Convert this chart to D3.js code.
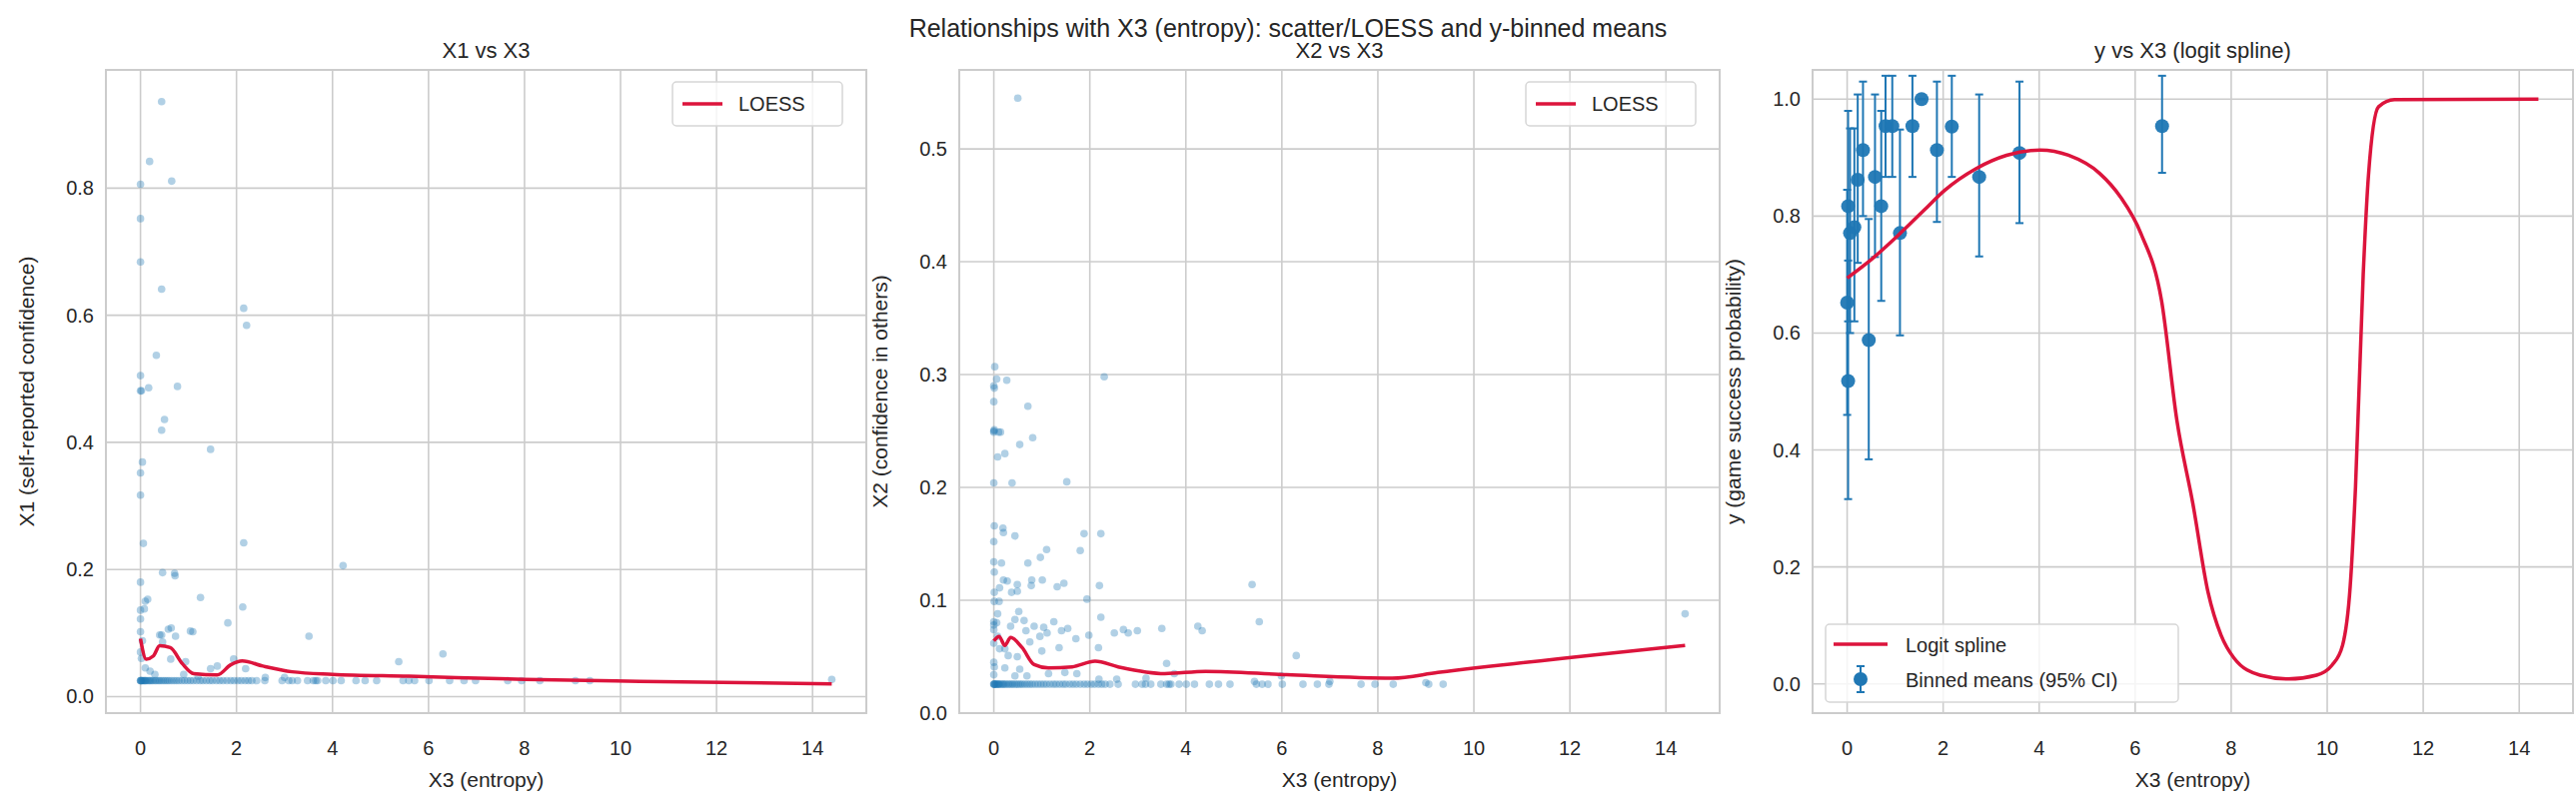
<!DOCTYPE html>
<html>
<head>
<meta charset="utf-8">
<script src="https://cdn.jsdelivr.net/npm/d3@7.9.0/dist/d3.min.js"></script>
<style>
  body { margin: 0; background: #fff; }
  text { font-family: "Liberation Sans", Arial, sans-serif; fill: #262626; }
</style>
</head>
<body>
<div id="chart"></div>
<script>
// ---- data ----
// X3 values of the dense floor cluster (shared by X1 and X2 panels)
const floorX3 = [0, 0, 0.01, 0.02, 0.03, 0.05, 0.07, 0.09, 0.1, 0.12, 0.15, 0.18, 0.2, 0.23, 0.26, 0.3,
  0.33, 0.37, 0.4, 0.44, 0.48, 0.52, 0.56, 0.6, 0.65, 0.7, 0.75, 0.8, 0.86, 0.92, 0.98, 1.04, 1.1,
  1.17, 1.24, 1.3, 1.37, 1.44, 1.5, 1.58, 1.65, 1.72, 1.8, 1.88, 1.95, 2.03, 2.1, 2.18, 2.25, 2.32,
  2.42, 2.59, 2.95, 3.09, 3.16, 3.27, 3.48, 3.6, 3.65, 3.69, 3.86, 4.01, 4.18, 4.49, 4.68, 4.92,
  5.47, 5.59, 5.71, 6.01, 6.44, 6.74, 6.98, 7.65, 7.94, 8.32, 9.06, 9.36];
const floorX1 = 0.025;
const floorX2 = 0.0256;

// X1 vs X3 scattered points above the floor: [X3, X1]
const x1Points = [[0.44, 0.936], [0.19, 0.842], [0, 0.806], [0.65, 0.811], [0, 0.752], [0, 0.684],
  [0.44, 0.641], [2.15, 0.611], [2.21, 0.584], [0.33, 0.537], [0, 0.505], [0.17, 0.486],
  [0.77, 0.488], [0, 0.481], [0.02, 0.481], [0.5, 0.436], [0.44, 0.419], [1.46, 0.389],
  [0.04, 0.369], [0, 0.352], [0, 0.317], [0.06, 0.241], [2.15, 0.242], [4.22, 0.206],
  [0.46, 0.195], [0.71, 0.194], [0.72, 0.19], [0, 0.18], [0.15, 0.153], [0.1, 0.15], [1.25, 0.156],
  [0, 0.136], [0.08, 0.138], [2.13, 0.141], [0, 0.122], [1.82, 0.116], [0.58, 0.106], [1.04, 0.103],
  [0.4, 0.097], [0.73, 0.095], [3.51, 0.095], [0.64, 0.108], [1.09, 0.102], [0.44, 0.097],
  [0, 0.102], [0.04, 0.088], [0.46, 0.086], [5.38, 0.055], [6.3, 0.067], [0.63, 0.059],
  [0.94, 0.055], [1.6, 0.048], [1.46, 0.044], [1.94, 0.059], [2.19, 0.044], [0, 0.07],
  [0.02, 0.06], [0.1, 0.045], [0.2, 0.04], [0.3, 0.035], [0.9, 0.035], [1.2, 0.032],
  [2.6, 0.03], [3.0, 0.03], [14.4, 0.027]];
const x1Loess = [[0, 0.091], [0.12, 0.059], [0.27, 0.064], [0.4, 0.08], [0.62, 0.077], [0.87, 0.052],
  [1.11, 0.036], [1.6, 0.034], [1.88, 0.05], [2.12, 0.056], [2.55, 0.048], [3.16, 0.039],
  [4.0, 0.035], [5.59, 0.032], [8.0, 0.027], [10.4, 0.024], [14.4, 0.02]];

// X2 vs X3 scattered points above the floor: [X3, X2]
const x2Points = [[0.5, 0.545], [0.02, 0.307], [0.06, 0.296], [0.27, 0.295], [0, 0.29], [0.01, 0.288],
  [0, 0.276], [0.71, 0.272], [2.3, 0.298], [0, 0.25], [0.01, 0.251], [0.1, 0.249],
  [0, 0.249], [0.14, 0.249], [0.81, 0.244], [0.54, 0.238], [0.23, 0.23], [0.08, 0.227], [0, 0.204],
  [0.38, 0.204], [1.52, 0.205], [0.01, 0.166], [0.19, 0.164], [0.2, 0.16], [0.44, 0.157],
  [1.88, 0.159], [2.23, 0.159], [0, 0.152], [1.1, 0.145], [1.8, 0.144], [0.97, 0.138], [0, 0.134],
  [0.16, 0.133], [0.71, 0.133], [0.01, 0.125], [0.2, 0.118], [0.28, 0.117], [0.49, 0.114],
  [0.79, 0.118], [1.01, 0.118], [0.78, 0.113], [1.32, 0.112], [1.46, 0.115], [2.2, 0.113],
  [5.38, 0.114], [0.12, 0.111], [0.01, 0.107], [0.37, 0.107], [0.49, 0.108], [1.94, 0.101],
  [0.01, 0.099], [0.11, 0.099], [0.08, 0.088], [0.52, 0.09], [0, 0.081], [0.06, 0.08], [0.44, 0.083],
  [0.63, 0.082], [1.25, 0.081], [2.23, 0.085], [5.53, 0.081], [0.35, 0.077], [0.84, 0.077],
  [1.04, 0.076], [1.41, 0.073], [1.54, 0.075], [2.51, 0.071], [2.7, 0.074], [2.99, 0.073],
  [3.5, 0.075], [4.25, 0.077], [4.34, 0.073], [0, 0.074], [0, 0.078], [0.67, 0.073], [0.96, 0.068],
  [1.11, 0.071], [1.71, 0.066], [1.98, 0.069], [2.8, 0.071], [0.08, 0.068], [0.75, 0.063], [0, 0.062],
  [1.36, 0.058], [2.18, 0.058], [1.0, 0.055], [0.12, 0.057], [0.23, 0.057], [0.3, 0.051],
  [0.49, 0.05], [6.3, 0.051], [0, 0.045], [3.6, 0.044], [0.01, 0.041], [0.23, 0.04], [0.54, 0.039],
  [1.14, 0.035], [1.48, 0.036], [1.73, 0.035], [0, 0.034], [0.44, 0.033], [0.69, 0.033],
  [3.17, 0.031], [3.76, 0.035], [5.99, 0.033], [7.0, 0.028], [5.43, 0.028], [2.19, 0.03],
  [2.56, 0.03], [9.0, 0.027], [14.4, 0.088]];
const x2Loess = [[0, 0.064], [0.11, 0.068], [0.23, 0.06], [0.35, 0.067], [0.59, 0.058], [0.84, 0.043],
  [1.14, 0.04], [1.63, 0.041], [2.11, 0.046], [2.59, 0.041], [3.56, 0.035], [4.41, 0.037],
  [6.1, 0.034], [8.3, 0.031], [9.25, 0.036], [14.4, 0.06]];

// y vs X3: binned means with 95% CI
const binX3 = [0.02, 0.0, 0.02, 0.06, 0.15, 0.22, 0.33, 0.45, 0.58, 0.71, 0.8, 0.94, 1.1, 1.36, 1.55,
  1.87, 2.18, 2.75, 3.59, 6.56];
const binMean = [0.518, 0.652, 0.817, 0.771, 0.781, 0.862, 0.913, 0.588, 0.867, 0.817, 0.954, 0.954,
  0.771, 0.954, 1.0, 0.913, 0.953, 0.867, 0.908, 0.954];
const binLo = [0.316, 0.46, 0.62, 0.6, 0.62, 0.72, 0.8, 0.384, 0.73, 0.655, 0.867, 0.867, 0.596,
  0.867, 1.0, 0.79, 0.867, 0.731, 0.788, 0.874];
const binHi = [0.724, 0.845, 0.98, 0.95, 0.95, 1.008, 1.03, 0.795, 1.008, 0.98, 1.04, 1.04, 0.948,
  1.04, 1.0, 1.03, 1.04, 1.008, 1.03, 1.04];
const splineX = [0, 0.52, 1.06, 1.6, 2.03, 2.68, 3.32, 4.02, 4.61, 5.26, 5.69, 6.12, 6.55, 6.87, 7.2,
  7.52, 7.79, 8.06, 8.6, 9.19, 9.78, 10.1, 10.32, 10.48, 10.59, 10.75, 10.86, 11.07, 11.4, 14.4];
const splineY = [0.694, 0.727, 0.767, 0.81, 0.844, 0.881, 0.904, 0.913, 0.904, 0.873, 0.833, 0.77,
  0.655, 0.45, 0.309, 0.156, 0.083, 0.044, 0.015, 0.0085, 0.015, 0.032, 0.066, 0.168, 0.337, 0.7,
  0.87, 0.987, 0.999, 1.0];

// ---- layout ----
const width = 2578, height = 808;
const plotTop = 70, plotBottom = 714;
const panels = [
  { left: 106, right: 867, y: [-0.026, 0.986], ticks: [0, 0.2, 0.4, 0.6, 0.8],
    title: "X1 vs X3", ylabel: "X1 (self-reported confidence)" },
  { left: 960, right: 1721, y: [0, 0.57], ticks: [0, 0.1, 0.2, 0.3, 0.4, 0.5],
    title: "X2 vs X3", ylabel: "X2 (confidence in others)" },
  { left: 1814, right: 2575, y: [-0.05, 1.05], ticks: [0, 0.2, 0.4, 0.6, 0.8, 1.0],
    title: "y vs X3 (logit spline)", ylabel: "y (game success probability)" },
];
const blue = "#1f77b4", red = "#dc143c", grid = "#cccccc";

const svg = d3.select("#chart").append("svg")
  .attr("width", width).attr("height", height);

svg.append("text")
  .attr("x", 1289).attr("y", 37)
  .attr("text-anchor", "middle")
  .style("font-size", "25px")
  .text("Relationships with X3 (entropy): scatter/LOESS and y-binned means");

panels.forEach((p) => {
  p.x = d3.scaleLinear().domain([-0.72, 15.12]).range([p.left, p.right]);
  p.ys = d3.scaleLinear().domain(p.y).range([plotBottom, plotTop]);
  const g = svg.append("g");
  p.g = g;

  // grid
  g.selectAll(".gx").data(d3.range(0, 15, 2)).join("line")
    .attr("x1", (d) => p.x(d)).attr("x2", (d) => p.x(d))
    .attr("y1", plotTop).attr("y2", plotBottom)
    .attr("stroke", grid).attr("stroke-width", 1.6);
  g.selectAll(".gy").data(p.ticks).join("line")
    .attr("x1", p.left).attr("x2", p.right)
    .attr("y1", (d) => p.ys(d)).attr("y2", (d) => p.ys(d))
    .attr("stroke", grid).attr("stroke-width", 1.6);

  // tick labels
  g.selectAll(".tx").data(d3.range(0, 15, 2)).join("text")
    .attr("x", (d) => p.x(d)).attr("y", 756)
    .attr("text-anchor", "middle").style("font-size", "20px")
    .text((d) => d);
  g.selectAll(".ty").data(p.ticks).join("text")
    .attr("x", p.left - 12).attr("y", (d) => p.ys(d) + 7)
    .attr("text-anchor", "end").style("font-size", "20px")
    .text(d3.format(".1f"));

  g.append("text")
    .attr("x", (p.left + p.right) / 2).attr("y", 788)
    .attr("text-anchor", "middle").style("font-size", "21px")
    .text("X3 (entropy)");
  g.append("text")
    .attr("transform", `translate(${p.left - 72},${(plotTop + plotBottom) / 2}) rotate(-90)`)
    .attr("text-anchor", "middle").style("font-size", "21px")
    .text(p.ylabel);
  g.append("text")
    .attr("x", (p.left + p.right) / 2).attr("y", 58)
    .attr("text-anchor", "middle").style("font-size", "22px")
    .text(p.title);
});

const line = (p) => d3.line().x((d) => p.x(d[0])).y((d) => p.ys(d[1])).curve(d3.curveMonotoneX);

function scatterPanel(p, pts, floorY, loess) {
  const all = floorX3.map((x) => [x, floorY]).concat(pts);
  p.g.append("g").selectAll("circle").data(all).join("circle")
    .attr("cx", (d) => p.x(d[0])).attr("cy", (d) => p.ys(d[1]))
    .attr("r", 3.8).attr("fill", blue).attr("fill-opacity", 0.35);
  p.g.append("path").datum(loess)
    .attr("d", line(p)).attr("fill", "none")
    .attr("stroke", red).attr("stroke-width", 3.5);
  // legend
  const lg = p.g.append("g").attr("transform", `translate(${p.right - 194},${plotTop + 12})`);
  lg.append("rect").attr("width", 170).attr("height", 44).attr("rx", 4)
    .attr("fill", "#fff").attr("fill-opacity", 0.8).attr("stroke", "#d6d6d6").attr("stroke-width", 1.5);
  lg.append("line").attr("x1", 10).attr("x2", 50).attr("y1", 22).attr("y2", 22)
    .attr("stroke", red).attr("stroke-width", 3.5);
  lg.append("text").attr("x", 66).attr("y", 29).style("font-size", "20px").text("LOESS");
}
scatterPanel(panels[0], x1Points, floorX1, x1Loess);
scatterPanel(panels[1], x2Points, floorX2, x2Loess);

// panel 3
const p3 = panels[2];
const bins = binX3.map((x, i) => ({ x, m: binMean[i], lo: binLo[i], hi: binHi[i] }));
const eb = p3.g.append("g").attr("stroke", blue).attr("stroke-width", 2);
eb.selectAll(".v").data(bins).join("line")
  .attr("x1", (d) => p3.x(d.x)).attr("x2", (d) => p3.x(d.x))
  .attr("y1", (d) => p3.ys(d.lo)).attr("y2", (d) => p3.ys(d.hi));
["lo", "hi"].forEach((k) => {
  eb.selectAll(".c" + k).data(bins).join("line")
    .attr("x1", (d) => p3.x(d.x) - 4).attr("x2", (d) => p3.x(d.x) + 4)
    .attr("y1", (d) => p3.ys(d[k])).attr("y2", (d) => p3.ys(d[k]));
});
p3.g.append("g").selectAll("circle").data(bins).join("circle")
  .attr("cx", (d) => p3.x(d.x)).attr("cy", (d) => p3.ys(d.m))
  .attr("r", 7).attr("fill", blue).attr("fill-opacity", 0.95);
p3.g.append("path").datum(splineX.map((x, i) => [x, splineY[i]]))
  .attr("d", line(p3)).attr("fill", "none")
  .attr("stroke", red).attr("stroke-width", 3.5);

const lg3 = p3.g.append("g").attr("transform", `translate(${p3.left + 13},625)`);
lg3.append("rect").attr("width", 353).attr("height", 78).attr("rx", 4)
  .attr("fill", "#fff").attr("fill-opacity", 0.8).attr("stroke", "#d6d6d6").attr("stroke-width", 1.5);
lg3.append("line").attr("x1", 8).attr("x2", 62).attr("y1", 20).attr("y2", 20)
  .attr("stroke", red).attr("stroke-width", 3.5);
lg3.append("text").attr("x", 80).attr("y", 28).style("font-size", "20px").text("Logit spline");
lg3.append("line").attr("x1", 35).attr("x2", 35).attr("y1", 42).attr("y2", 68)
  .attr("stroke", blue).attr("stroke-width", 2);
lg3.append("line").attr("x1", 31).attr("x2", 39).attr("y1", 42).attr("y2", 42)
  .attr("stroke", blue).attr("stroke-width", 2);
lg3.append("line").attr("x1", 31).attr("x2", 39).attr("y1", 68).attr("y2", 68)
  .attr("stroke", blue).attr("stroke-width", 2);
lg3.append("circle").attr("cx", 35).attr("cy", 55).attr("r", 7).attr("fill", blue);
lg3.append("text").attr("x", 80).attr("y", 63).style("font-size", "20px").text("Binned means (95% CI)");

// spines on top
panels.forEach((p) => {
  p.g.append("rect").attr("x", p.left).attr("y", plotTop)
    .attr("width", p.right - p.left).attr("height", plotBottom - plotTop)
    .attr("fill", "none").attr("stroke", grid).attr("stroke-width", 2);
});
</script>
</body>
</html>
